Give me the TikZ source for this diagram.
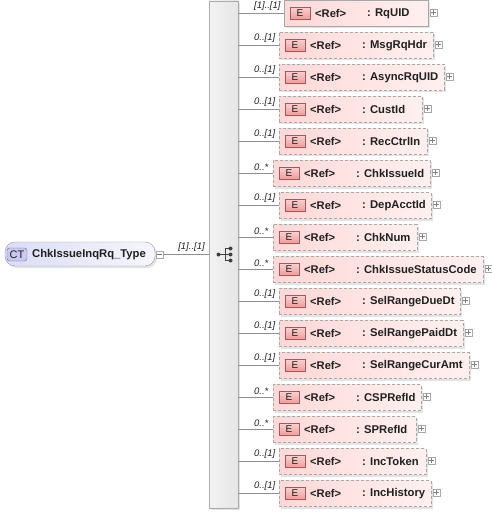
\documentclass[tikz,border=0pt]{standalone}
\usepackage{fontspec}
\setmainfont{Liberation Sans}
\usetikzlibrary{shadows}
\definecolor{eborder}{HTML}{A8A8A8}
\definecolor{epink}{HTML}{FFD8D8}
\definecolor{epinkr}{HTML}{FFF0F0}
\definecolor{ered1}{HTML}{FAD0D0}
\definecolor{ered2}{HTML}{EE9A9A}
\definecolor{eredb}{HTML}{A85858}
\definecolor{barl}{HTML}{F2F2F2}
\definecolor{barr}{HTML}{E6E6E6}
\definecolor{barb}{HTML}{ABABAB}
\definecolor{ctl}{HTML}{DCDCF6}
\definecolor{ctr}{HTML}{F6F6FD}
\definecolor{ctb}{HTML}{9A9AB0}
\definecolor{cttagf}{HTML}{C9C9EF}
\definecolor{cttagb}{HTML}{6A6AA8}
\definecolor{linec}{HTML}{909090}
\definecolor{txt}{HTML}{202020}
\begin{document}
\begin{tikzpicture}[x=1bp,y=-1bp,
  shad/.style={drop shadow={shadow xshift=2bp, shadow yshift=-2bp, opacity=.22}},
  ebox/.style={draw=eborder, left color=epink, right color=epinkr, minimum height=26bp, inner sep=0, outer sep=0, shad},
  etag/.style={draw=eredb, top color=ered1, bottom color=ered2, minimum width=20bp, minimum height=12bp, inner sep=0, font=\fontsize{10}{11}\selectfont, text=txt},
  reft/.style={inner sep=0, anchor=west, font=\fontsize{11.2}{13}\selectfont\bfseries, text=txt},
  namet/.style={inner sep=0, anchor=west, font=\fontsize{11.3}{13}\selectfont\bfseries, text=txt},
  multl/.style={inner sep=0, font=\fontsize{9.5}{10}\selectfont\itshape, text=txt},
  conn/.style={draw=linec, line width=0.8bp},
  plusbox/.style={draw=eborder, fill=white, minimum size=7bp, inner sep=0},
  dotn/.style={circle, fill=black!75, minimum size=4bp, inner sep=0},
  edash/.style={dash pattern=on 3bp off 2bp},
  esolid/.style={solid}]
\useasboundingbox (0,0) rectangle (492,513);
% sequence bar
\node[draw=barb, left color=barl, right color=barr, minimum width=29bp, minimum height=507bp, inner sep=0, shad] (seq) at (223.5,254.5) {};
% sequence icon
\node[dotn] (d0) at (218.5,254.5) {};
\node[dotn] (d1) at (230.5,248.5) {};
\node[dotn] (d2) at (230.5,254.5) {};
\node[dotn] (d3) at (230.5,260.5) {};
\coordinate (sj) at (225,254.5);
\draw[black!75, line width=0.9bp] (d0.center) -- (sj) (sj |- d1) -- (sj |- d3) (sj |- d1) -- (d1.center) (sj |- d3) -- (d3.center) (sj) -- (d2.center);
% complex type
\node[draw=ctb, left color=ctl, right color=ctr, rounded corners=10bp, minimum width=150bp, minimum height=24bp, inner sep=0, shad] (ct) at (80,254) {};
\node[draw=cttagb, fill=cttagf, rounded corners=2.5bp, minimum width=20bp, minimum height=13bp, inner sep=0, font=\fontsize{11}{12}\selectfont, text=txt] (ctt) at (17,254.5) {CT};
\node[namet] (ctn) at (32,254.5) {ChkIssueInqRq\_Type};
\node[plusbox] (mn) at (159.5,254.5) {};
\draw[black!55] ([xshift=1.5bp]mn.west) -- ([xshift=-1.5bp]mn.east);
\draw[conn] (mn.east) -- (mn.east -| seq.west);
\node[multl, anchor=south] (ctm) at (191.5,252) {[1]..[1]};
% elements
\foreach \i/\lft/\rgt/\nm/\mu/\sty in {
  1/284/428/RqUID/{[1]..[1]}/esolid,
  2/279/433/MsgRqHdr/{0..[1]}/edash,
  3/279/444/AsyncRqUID/{0..[1]}/edash,
  4/279/422/CustId/{0..[1]}/edash,
  5/279/427/RecCtrlIn/{0..[1]}/edash,
  6/273/430/ChkIssueId/{0..*}/edash,
  7/279/431/DepAcctId/{0..[1]}/edash,
  8/273/417/ChkNum/{0..*}/edash,
  9/273/483/ChkIssueStatusCode/{0..*}/edash,
  10/279/460/SelRangeDueDt/{0..[1]}/edash,
  11/279/463/SelRangePaidDt/{0..[1]}/edash,
  12/279/469/SelRangeCurAmt/{0..[1]}/edash,
  13/273/421/CSPRefId/{0..*}/edash,
  14/273/416/SPRefId/{0..*}/edash,
  15/279/426/IncToken/{0..[1]}/edash,
  16/279/431/IncHistory/{0..[1]}/edash}{
  \pgfmathsetmacro\yy{13.5+32*(\i-1)}
  \pgfmathsetmacro\ww{\rgt-\lft}
  \pgfmathsetmacro\xc{(\rgt+\lft)/2}
  \node[ebox, \sty, minimum width=\ww bp] (e\i) at (\xc,\yy) {};
  \node[etag] (t\i) at ({\lft+16},\yy) {E};
  \node[reft] (r\i) at ({\lft+31},\yy) {<Ref>};
  \node[namet] (n\i) at ({\lft+83},\yy) {: \nm};
  \node[plusbox] (p\i) at ({\rgt+5.5},{\yy-1}) {};
  \draw[black!50] ([xshift=1.5bp]p\i.west) -- ([xshift=-1.5bp]p\i.east) ([yshift=-1.5bp]p\i.north) -- ([yshift=1.5bp]p\i.south);
  \draw[conn] (seq.east |- e\i.west) -- (e\i.west);
  \node[multl, anchor=south west] (m\i) at (254,{\yy-3}) {\mu};
}
\end{tikzpicture}
\end{document}
